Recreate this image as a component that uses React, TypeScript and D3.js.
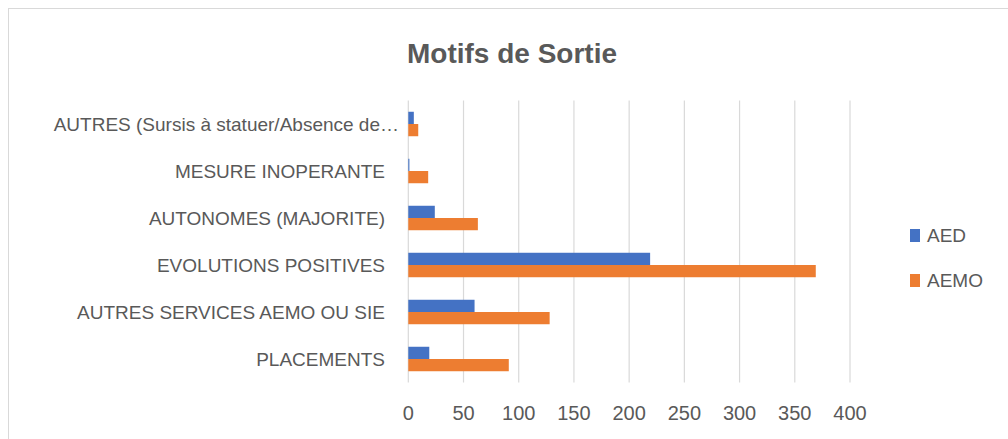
import * as d3 from "d3";
import { useEffect, useRef } from "react";

const categories = [
  "AUTRES (Sursis à statuer/Absence de…",
  "MESURE INOPERANTE",
  "AUTONOMES (MAJORITE)",
  "EVOLUTIONS POSITIVES",
  "AUTRES SERVICES AEMO OU SIE",
  "PLACEMENTS",
];
const series = ["AED", "AEMO"];
const aedValues = [5, 1, 24, 219, 60, 19];
const aemoValues = [9, 18, 63, 369, 128, 91];
const xTicks = [0, 50, 100, 150, 200, 250, 300, 350, 400];
const colors = ["#4472C4", "#ED7D31"];

const width = 1008;
const height = 439;
const font = "'Liberation Sans', Arial, sans-serif";

export default function App() {
  const svgRef = useRef<SVGSVGElement>(null);

  useEffect(() => {
    const svg = d3.select(svgRef.current);
    svg.selectAll("*").remove();

    // chart frame
    svg
      .append("rect")
      .attr("x", 8.5)
      .attr("y", 8.5)
      .attr("width", 1010)
      .attr("height", 440)
      .attr("fill", "#fff")
      .attr("stroke", "#d9d9d9");

    svg
      .append("text")
      .attr("x", 512)
      .attr("y", 63)
      .attr("text-anchor", "middle")
      .attr("font-family", font)
      .attr("font-weight", "bold")
      .attr("font-size", 28)
      .attr("fill", "#595959")
      .text("Motifs de Sortie");

    const x = d3.scaleLinear().domain([0, 400]).range([408.3, 850]);
    const y = d3.scaleBand().domain(categories).range([100.5, 382.5]).padding(0);
    const ySub = d3
      .scaleBand()
      .domain(series)
      .range([0, y.bandwidth()])
      .paddingInner(0)
      .paddingOuter(0.92);

    // gridlines
    svg
      .append("g")
      .selectAll("line")
      .data(xTicks)
      .join("line")
      .attr("x1", (d) => x(d))
      .attr("x2", (d) => x(d))
      .attr("y1", 100.5)
      .attr("y2", 382.5)
      .attr("stroke", "#d9d9d9")
      .attr("stroke-width", 1.2);

    // tick labels
    svg
      .append("g")
      .selectAll("text")
      .data(xTicks)
      .join("text")
      .attr("x", (d) => x(d))
      .attr("y", 420)
      .attr("text-anchor", "middle")
      .attr("font-family", font)
      .attr("font-size", 20)
      .attr("fill", "#595959")
      .text((d) => d);

    // category labels
    svg
      .append("g")
      .selectAll("text")
      .data(categories)
      .join("text")
      .attr("x", (d) => (d.endsWith("…") ? 399 : 385))
      .attr("y", (d) => (y(d) as number) + y.bandwidth() / 2)
      .attr("dy", "0.35em")
      .attr("text-anchor", "end")
      .attr("font-family", font)
      .attr("font-size", 19)
      .attr("fill", "#595959")
      .text((d) => d);

    const valuesBySeries = [aedValues, aemoValues];
    series.forEach((s, si) => {
      svg
        .append("g")
        .selectAll("rect")
        .data(categories.map((c, i) => ({ c, v: valuesBySeries[si][i] })))
        .join("rect")
        .attr("x", x(0))
        .attr("y", (d) => (y(d.c) as number) + (ySub(s) as number))
        .attr("width", (d) => x(d.v) - x(0))
        .attr("height", ySub.bandwidth())
        .attr("fill", colors[si]);
    });

    // legend
    const legend = svg
      .append("g")
      .selectAll("g")
      .data(series)
      .join("g")
      .attr("transform", (_, i) => `translate(910, ${229 + i * 45})`);
    legend
      .append("rect")
      .attr("width", 10)
      .attr("height", 13)
      .attr("fill", (_, i) => colors[i]);
    legend
      .append("text")
      .attr("x", 17)
      .attr("y", 6.5)
      .attr("dy", "0.35em")
      .attr("font-family", font)
      .attr("font-size", 19)
      .attr("fill", "#595959")
      .text((d) => d);
  }, []);

  return (
    <svg
      ref={svgRef}
      width={width}
      height={height}
      style={{ position: "absolute", left: 0, top: 0 }}
    />
  );
}
